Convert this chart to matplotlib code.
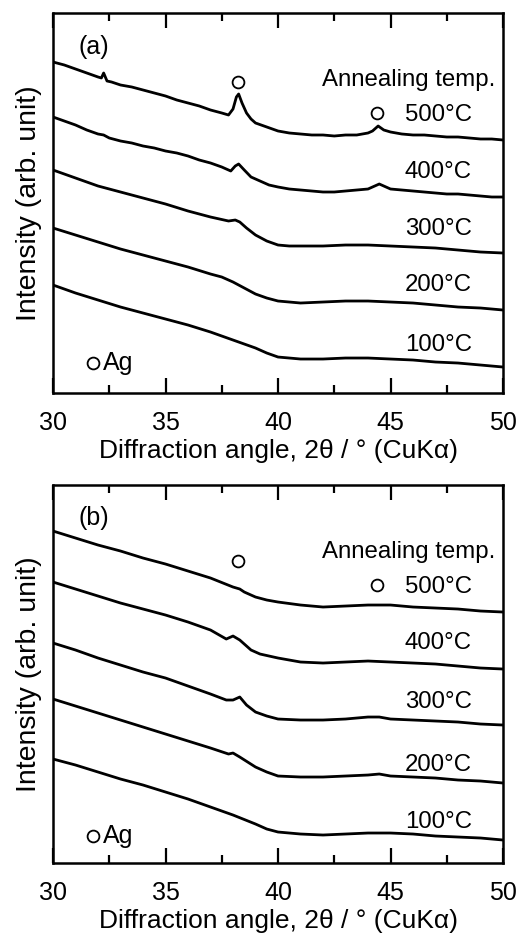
import numpy as np
import matplotlib.pyplot as plt

plt.rcParams['font.family'] = ['Liberation Sans', 'DejaVu Sans']
plt.rcParams['font.size'] = 17.3

# ---- panel (a) ----
a500_x = [30, 30.5, 31, 31.5, 32, 32.15, 32.25, 32.4, 32.6, 33, 33.5, 34, 34.5, 35, 35.5, 36, 36.5, 37, 37.5, 37.8,
          38.0, 38.15, 38.25, 38.4, 38.6, 38.8, 39, 39.5, 40, 40.5, 41, 41.5, 42, 42.5, 43, 43.5, 44, 44.2, 44.45,
          44.7, 45, 45.5, 46, 46.5, 47, 47.5, 48, 48.5, 49, 49.5, 50]
a500_y = [331, 328, 324, 320, 316, 315, 320, 312, 311, 308, 306, 303, 300, 297, 293, 290, 287, 283, 280, 278,
          284, 296, 299, 290, 280, 274, 270, 266, 262, 260, 259, 258, 258, 257, 258, 258, 260, 262, 267,
          263, 261, 259, 258, 258, 257, 256, 256, 255, 254, 254, 253]

a400_x = [30, 30.5, 31, 31.5, 32, 32.25, 32.5, 33, 33.5, 34, 34.5, 35, 35.5, 36, 36.5, 37, 37.5, 37.9, 38.1, 38.25,
          38.5, 38.8, 39.2, 39.6, 40, 40.5, 41, 41.5, 42, 42.5, 43, 43.5, 44, 44.3, 44.5, 44.8, 45, 45.5, 46, 46.5,
          47, 47.5, 48, 48.5, 49, 49.5, 50]
a400_y = [276, 272, 268, 263, 259, 258, 255, 252, 250, 247, 245, 242, 240, 237, 233, 230, 226, 222, 227, 229,
          223, 216, 212, 208, 206, 204, 203, 202, 201, 201, 202, 203, 204, 207, 209, 206, 204, 203, 202, 201,
          200, 199, 199, 198, 197, 196, 196]

a300_x = [30, 31, 32, 33, 34, 35, 36, 37, 37.8, 38.1, 38.3, 38.6, 39, 39.5, 40, 40.5, 41, 42, 43, 44, 45, 46, 47, 48, 49, 50]
a300_y = [223, 215, 207, 201, 195, 189, 182, 176, 172, 173, 171, 165, 158, 152, 148, 147, 147, 147, 148, 148, 147, 146, 145, 143, 141, 140]

a200_x = [30, 31, 32, 33, 34, 35, 36, 37, 37.5, 38, 38.5, 39, 39.5, 40, 40.5, 41, 42, 43, 44, 45, 46, 47, 48, 49, 50]
a200_y = [165, 158, 151, 144, 138, 132, 126, 119, 116, 111, 105, 99, 95, 92, 91, 90, 91, 92, 92, 91, 90, 88, 86, 85, 83]

a100_x = [30, 31, 32, 33, 34, 35, 36, 37, 38, 38.5, 39, 39.5, 40, 40.5, 41, 42, 43, 44, 45, 46, 47, 48, 49, 50]
a100_y = [108, 100, 93, 86, 80, 74, 68, 61, 53, 49, 45, 40, 36, 35, 34, 34, 35, 35, 34, 33, 31, 30, 28, 26]

# ---- panel (b) ----
b500_x = [30, 31, 32, 33, 34, 35, 36, 37, 38, 38.3, 38.5, 39, 39.5, 40, 41, 42, 43, 44, 45, 46, 47, 48, 49, 50]
b500_y = [332, 325, 318, 312, 305, 299, 292, 285, 276, 274, 271, 266, 263, 261, 258, 256, 257, 258, 258, 256, 255, 254, 252, 251]

b400_x = [30, 31, 32, 33, 34, 35, 36, 37, 37.7, 38.0, 38.3, 38.8, 39.2, 40, 41, 42, 43, 44, 45, 46, 47, 48, 49, 50]
b400_y = [281, 274, 267, 260, 254, 248, 241, 233, 224, 227, 223, 213, 209, 205, 201, 200, 201, 202, 201, 200, 199, 197, 195, 194]

b300_x = [30, 31, 32, 33, 34, 35, 36, 37, 37.7, 38.0, 38.3, 38.6, 39, 39.5, 40, 41, 42, 43, 44, 44.5, 45, 46, 47, 48, 49, 50]
b300_y = [220, 213, 205, 198, 191, 185, 177, 169, 163, 163, 166, 158, 151, 147, 144, 143, 143, 144, 146, 146, 144, 143, 142, 141, 139, 138]

b200_x = [30, 31, 32, 33, 34, 35, 36, 37, 37.8, 38.0, 38.3, 39, 39.5, 40, 41, 42, 43, 44, 44.5, 45, 46, 47, 48, 49, 50]
b200_y = [164, 157, 150, 143, 136, 129, 122, 115, 109, 110, 106, 96, 91, 87, 86, 86, 87, 88, 89, 87, 86, 85, 83, 82, 80]

b100_x = [30, 31, 32, 33, 34, 35, 36, 37, 38, 39, 39.5, 40, 41, 42, 43, 44, 45, 46, 47, 48, 49, 50]
b100_y = [104, 98, 91, 84, 78, 71, 64, 56, 48, 39, 34, 31, 29, 28, 29, 30, 30, 29, 27, 26, 25, 23]

temps = ['500°C', '400°C', '300°C', '200°C', '100°C']
label_y_a = [278, 221, 164, 108, 48]
label_y_b = [276, 220, 161, 98, 41]

ag_peaks_x = [38.2, 44.4]
ag_peaks_y_a = [311, 280]
ag_peaks_y_b = [302, 278]

fig = plt.figure(figsize=(5.28, 9.34), dpi=100)
ax_a = fig.add_axes([0.1004, 0.5792, 0.8523, 0.4069])
ax_b = fig.add_axes([0.1004, 0.0760, 0.8523, 0.4047])

panels = [
    (ax_a, '(a)', [(a500_x, a500_y), (a400_x, a400_y), (a300_x, a300_y), (a200_x, a200_y), (a100_x, a100_y)],
     label_y_a, ag_peaks_y_a, 313, 346, 30, 380),
    (ax_b, '(b)', [(b500_x, b500_y), (b400_x, b400_y), (b300_x, b300_y), (b200_x, b200_y), (b100_x, b100_y)],
     label_y_b, ag_peaks_y_b, 311, 345, 27, 378),
]

for ax, tag, curves, ly, agy, ann_y, tag_y, ag_y, ytop in panels:
    for (cx, cy) in curves:
        ax.plot(cx, cy, color='black', linewidth=2.0)
    for t, y in zip(temps, ly):
        ax.text(48.62, y, t, ha='right', va='center')
    ax.text(49.64, ann_y, 'Annealing temp.', ha='right', va='center')
    ax.text(31.8, tag_y, tag, ha='center', va='center', fontsize=18)
    ax.plot(ag_peaks_x, agy, 'o', mfc='white', mec='black', mew=1.3, ms=8.5, linestyle='none')
    ax.plot([31.76], [ag_y], 'o', mfc='white', mec='black', mew=1.3, ms=8.5)
    ax.text(32.2, ag_y, 'Ag', ha='left', va='center', fontsize=18)

    ax.set_xlim(30, 50)
    ax.set_ylim(0, ytop)
    ax.set_xticks([30, 35, 40, 45, 50])
    ax.set_xticks(np.arange(32.5, 50, 5), minor=True)
    ax.set_yticks([])
    ax.tick_params(axis='x', which='major', direction='in', top=True, length=11, width=1.6, pad=13,
                   labelsize=18)
    ax.tick_params(axis='x', which='minor', direction='in', top=True, length=5.5, width=1.6)
    for s in ax.spines.values():
        s.set_linewidth(1.8)
    ax.set_xlabel('Diffraction angle, 2θ / ° (CuKα)', fontsize=19, labelpad=3)
    ax.set_ylabel('Intensity (arb. unit)', fontsize=20.5)
    ax.yaxis.set_label_coords(-0.024, 0.5)

fig.savefig('out.png', dpi=100)
